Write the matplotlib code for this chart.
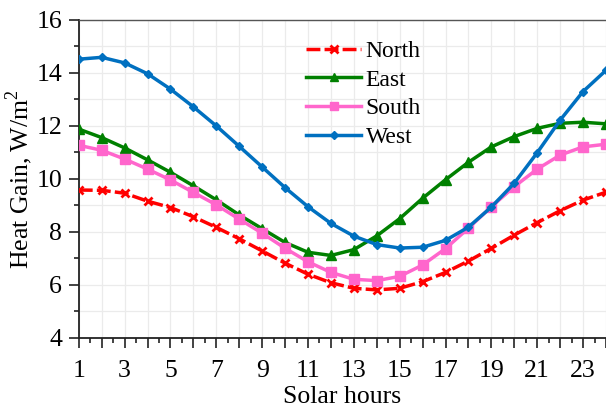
import matplotlib
matplotlib.use("Agg")
import matplotlib.pyplot as plt
from matplotlib.ticker import MultipleLocator, FuncFormatter

hours = list(range(1, 25))
north = [9.58, 9.57, 9.46, 9.16, 8.92, 8.57, 8.17, 7.74, 7.28, 6.82, 6.4, 6.08,
         5.87, 5.81, 5.87, 6.12, 6.47, 6.9, 7.38, 7.88, 8.35, 8.8, 9.2, 9.5]
east = [11.88, 11.56, 11.17, 10.72, 10.25, 9.74, 9.21, 8.64, 8.12, 7.6, 7.23, 7.11,
        7.33, 7.85, 8.5, 9.27, 9.97, 10.63, 11.21, 11.6, 11.91, 12.1, 12.14, 12.08]
south = [11.27, 11.08, 10.75, 10.37, 9.96, 9.49, 9.02, 8.48, 7.95, 7.38, 6.87, 6.47,
         6.21, 6.16, 6.32, 6.75, 7.37, 8.14, 8.95, 9.71, 10.37, 10.9, 11.21, 11.31]
west = [14.52, 14.59, 14.38, 13.97, 13.39, 12.72, 12.0, 11.23, 10.45, 9.67, 8.95, 8.32,
        7.84, 7.52, 7.39, 7.42, 7.68, 8.18, 8.94, 9.84, 10.99, 12.22, 13.3, 14.1]

plt.rcParams["font.family"] = ["Liberation Serif", "DejaVu Serif"]
plt.rcParams["mathtext.fontset"] = "custom"
plt.rcParams["mathtext.rm"] = "Liberation Serif"

fig = plt.figure(figsize=(6.06, 4.08), dpi=100)
ax = fig.add_axes([0.130, 0.172, 0.870, 0.779])

ax.plot(hours, north, color="#FF0000", lw=2.5, ls=(0, (4, 1.2)), marker="x",
        ms=6, mew=2, label="North", zorder=3)
ax.plot(hours, east, color="#008000", lw=2.5, marker="^", ms=6.5, label="East", zorder=3)
ax.plot(hours, south, color="#FF66CC", lw=2.5, marker="s", ms=6.5, label="South", zorder=3)
ax.plot(hours, west, color="#0070C0", lw=2.5, marker="D", ms=4.5, label="West", zorder=4)

ax.set_xlim(1, 24)
ax.set_ylim(4, 16)
ax.xaxis.set_major_locator(MultipleLocator(1))
ax.xaxis.set_minor_locator(MultipleLocator(0.5))
ax.xaxis.set_major_formatter(FuncFormatter(lambda v, p: f"{int(v)}" if int(v) % 2 == 1 else ""))
ax.yaxis.set_major_locator(MultipleLocator(2))
ax.yaxis.set_minor_locator(MultipleLocator(1))

ax.grid(True, which="major", axis="x", color="#EBEBEB", lw=0.9)
ax.grid(True, which="both", axis="y", color="#EBEBEB", lw=0.9)
ax.set_axisbelow(True)

ax.tick_params(which="major", direction="out", length=7, width=1.2, labelsize=18.5, pad=5, color="#222222")
ax.tick_params(which="minor", direction="out", length=3.5, width=1.2, color="#222222")
ax.tick_params(axis="x", which="major", pad=9)

for side in ["left", "bottom"]:
    ax.spines[side].set_color("#222222")
    ax.spines[side].set_linewidth(1.3)
ax.spines["top"].set_color("#555555")
ax.spines["top"].set_linewidth(1.0)
ax.spines["right"].set_visible(False)

ax.set_xlabel("Solar hours", fontsize=18.5, labelpad=3)
ax.set_ylabel("Heat Gain, W/m$^2$", fontsize=18.5, labelpad=1)

ax.legend(loc="upper left", bbox_to_anchor=(0.405, 0.98), frameon=False, fontsize=17,
          handlelength=2.3, handletextpad=0.2, labelspacing=0.3, borderaxespad=0.2,
          markerscale=0.85)

fig.savefig("out.png", dpi=100)
